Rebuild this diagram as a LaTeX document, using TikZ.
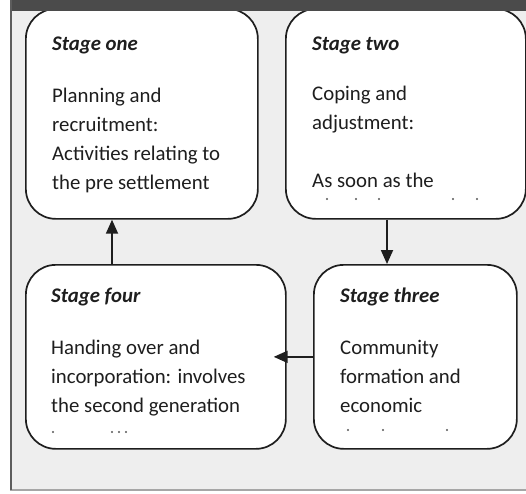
\documentclass[tikz,border=0pt]{standalone}
\usepackage{fontspec}
\setmainfont{Carlito}
\usetikzlibrary{arrows.meta}
\definecolor{bg}{HTML}{EEEEEE}
\definecolor{band}{HTML}{4B4B4B}
\definecolor{ink}{HTML}{1E1E1E}
\begin{document}
\begin{tikzpicture}[x=1pt,y=-1pt,
  box/.style={draw=ink, line width=1.7pt, rounded corners=30pt, fill=white, anchor=north west, inner sep=0pt},
  head/.style={anchor=base west, font=\fontsize{20.8}{24}\selectfont\bfseries\itshape, text=ink, inner sep=0pt},
  body/.style={anchor=base west, font=\fontsize{20.8}{29}\selectfont, text=ink, align=left, inner sep=0pt},
  arr/.style={draw=ink, line width=1.8pt, -{Triangle[length=14pt,width=12pt]}},
  crumb/.style={fill=ink!75}]
\useasboundingbox (0,0) rectangle (526,493);
\fill[white] (0,0) rectangle (526,493);
\fill[bg] (11,11) rectangle (526,490);
\draw[gray!70, line width=1.2pt] (10,490) -- (526,490);

% boxes
\node[box, minimum width=232pt, minimum height=210pt] (one) at (25,8) {};
\node[box, minimum width=240pt, minimum height=210pt] (two) at (285,8) {};
\node[box, minimum width=260pt, minimum height=184pt] (four) at (25,264) {};
\node[box, minimum width=203pt, minimum height=184pt] (three) at (313,264) {};

% frame on top
\fill[band] (10,0) rectangle (526,11);
\draw[band!90, line width=2pt] (11,0) -- (11,490);

% texts (body nodes anchored at the baseline of their last line)
\node[head] (h1) at (52,50) {Stage one};
\node[body] (b1) at (52,189) {Planning and\\recruitment:\\Activities relating to\\the pre settlement};
\node[head] (h2) at (312,50) {Stage two};
\node[body] (b2) at (312,187) {Coping and\\adjustment:\\[29pt]As soon as the};
\node[head] (h4) at (51,302) {Stage four};
\node[body] (b4) at (51,412) {Handing over and\\incorporation: involves\\the second generation};
\node[head] (h3) at (340,302) {Stage three};
\node[body] (b3) at (340,412) {Community\\formation and\\economic};

% clipped remnants of the next lines
\foreach \x in {327,356,379,453,477} \fill[crumb] (\x,199) circle (1.2pt);
\foreach \x in {348,383,447} \fill[crumb] (\x,430) circle (1.2pt);
\foreach \x in {53,112,119,126} \fill[crumb] (\x,432) circle (1.2pt);

% connectors
\draw[arr] ([xshift=87pt]four.north west) -- ([xshift=87pt]one.south west);
\draw[arr] ([xshift=102pt]two.south west) -- ([xshift=102pt]two.south west |- three.north);
\draw[arr] (three.west) -- ([xshift=-13pt]three.west -| four.east);
\end{tikzpicture}
\end{document}
